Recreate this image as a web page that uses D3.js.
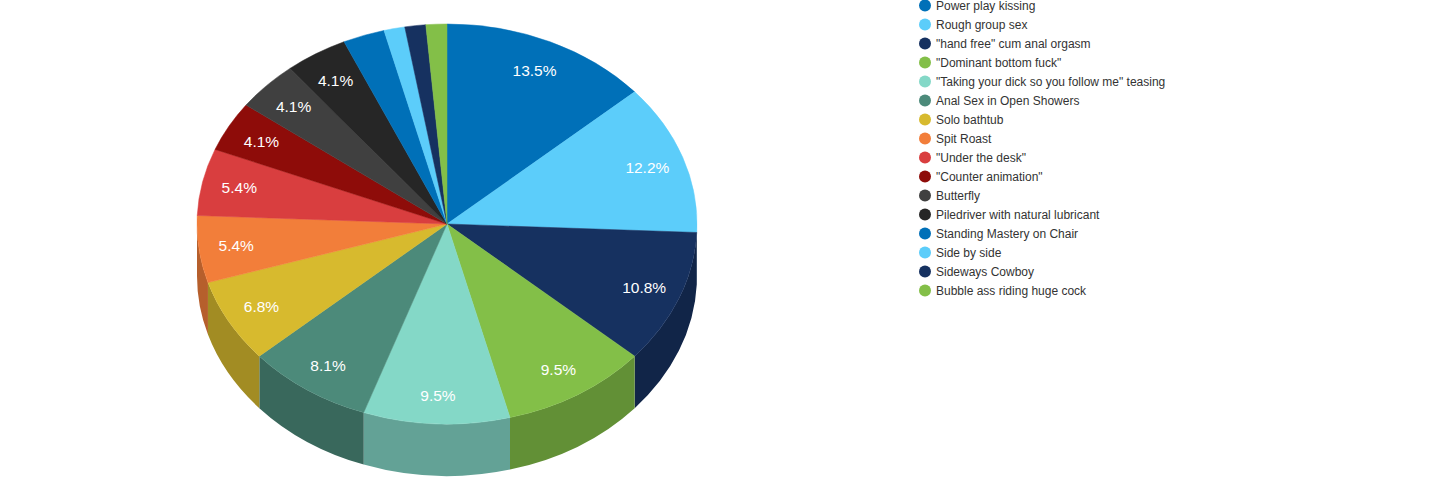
<!DOCTYPE html>
<html>
<head>
<meta charset="utf-8">
<script src="https://cdn.jsdelivr.net/npm/d3@7"></script>
<style>
  body { margin: 0; background: #fff; }
  svg { display: block; font-family: "Liberation Sans", Arial, sans-serif; }
</style>
</head>
<body>
<div id="chart"></div>
<script>
// slice names, in drawing order (clockwise from top)
const categories = [
    "Power play kissing",
    "Rough group sex",
    "\"hand free\" cum anal orgasm",
    "\"Dominant bottom fuck\"",
    "\"Taking your dick so you follow me\" teasing",
    "Anal Sex in Open Showers",
    "Solo bathtub",
    "Spit Roast",
    "\"Under the desk\"",
    "\"Counter animation\"",
    "Butterfly",
    "Piledriver with natural lubricant",
    "Standing Mastery on Chair",
    "Side by side",
    "Sideways Cowboy",
    "Bubble ass riding huge cock"
];

// votes per position
const values = [10, 9, 8, 7, 7, 6, 5, 4, 4, 3, 3, 3, 2, 1, 1, 1];

// palette (repeats after 12)
const palette = ["#0070b8", "#5ccdfa", "#163160", "#83bf48", "#84d8c7", "#4c8a7a",
                 "#d7ba2e", "#f27e3a", "#d93e3f", "#8e0c09", "#404040", "#262626"];

// start after page is ready
main();

function main() {
    const width = 1445, height = 500;

    // pie geometry
    const cx = 447, cy = 224, rx = 250, ry = 200, depth = 52;

    const svg = d3.select("#chart")
        .append("svg")
        .attr("width", width)
        .attr("height", height);

    const color = d3.scaleOrdinal()
        .domain(categories)
        .range(categories.map((c, i) => palette[i % palette.length]));

    const total = d3.sum(values);
    const pct = d3.format(".1f");

    const pie = d3.pie().sort(null).value(d => d.value);
    const arcs = pie(categories.map((c, i) => ({ name: c, value: values[i] })));

    // point on the top ellipse, angle clockwise from 12 o'clock
    function pt(a, dy) {
        return [cx + rx * Math.sin(a), cy - ry * Math.cos(a) + (dy || 0)];
    }

    // outer walls, only the front half shows
    const g = svg.append("g");
    const front0 = Math.PI / 2, front1 = Math.PI * 1.5;
    g.selectAll(".side")
        .data(arcs.filter(d => d.endAngle > front0 && d.startAngle < front1))
        .enter()
        .append("path")
        .attr("class", "side")
        .attr("fill", d => d3.rgb(color(d.data.name)).darker(0.8))
        .attr("d", function(d) {
            let a = Math.max(d.startAngle, front0);
            let b = Math.min(d.endAngle, front1);
            let p0 = pt(a), p1 = pt(b), q1 = pt(b, depth), q0 = pt(a, depth);
            return "M" + p0 + "A" + rx + "," + ry + " 0 0 1 " + p1 +
                   "L" + q1 + "A" + rx + "," + ry + " 0 0 0 " + q0 + "Z";
        });

    // top faces
    g.selectAll(".top")
        .data(arcs)
        .enter()
        .append("path")
        .attr("class", "top")
        .attr("fill", d => color(d.data.name))
        .attr("stroke", d => color(d.data.name))
        .attr("stroke-width", 0.5)
        .attr("d", function(d) {
            let p0 = pt(d.startAngle), p1 = pt(d.endAngle);
            let large = (d.endAngle - d.startAngle) > Math.PI ? 1 : 0;
            return "M" + cx + "," + cy + "L" + p0 + "A" + rx + "," + ry + " 0 " + large + " 1 " + p1 + "Z";
        });

    // percentage labels inside the bigger slices
    const k = 0.85;
    g.selectAll(".lbl")
        .data(arcs.filter(d => d.value / total >= 0.04))
        .enter()
        .append("text")
        .attr("class", "lbl")
        .attr("x", d => cx + k * rx * Math.sin((d.startAngle + d.endAngle) / 2))
        .attr("y", function(d) {
            let c = Math.cos((d.startAngle + d.endAngle) / 2);
            return cy - k * ry * c + 5 + 2 * c * c;
        })
        .attr("text-anchor", "middle")
        .attr("fill", "#fff")
        .attr("font-size", "15.5px")
        .text(d => pct(d.value / total * 100) + "%");

    // legend
    const legend = svg.append("g")
        .attr("transform", "translate(925,5.5)");
    const item = legend.selectAll(".item")
        .data(categories)
        .enter()
        .append("g")
        .attr("class", "item")
        .attr("transform", (d, i) => "translate(0," + (i * 19) + ")");
    item.append("circle")
        .attr("r", 6)
        .attr("fill", d => color(d));
    item.append("text")
        .attr("x", 11)
        .attr("y", 4.5)
        .attr("font-size", "12px")
        .attr("fill", "#333")
        .text(d => d);
}
</script>
</body>
</html>
